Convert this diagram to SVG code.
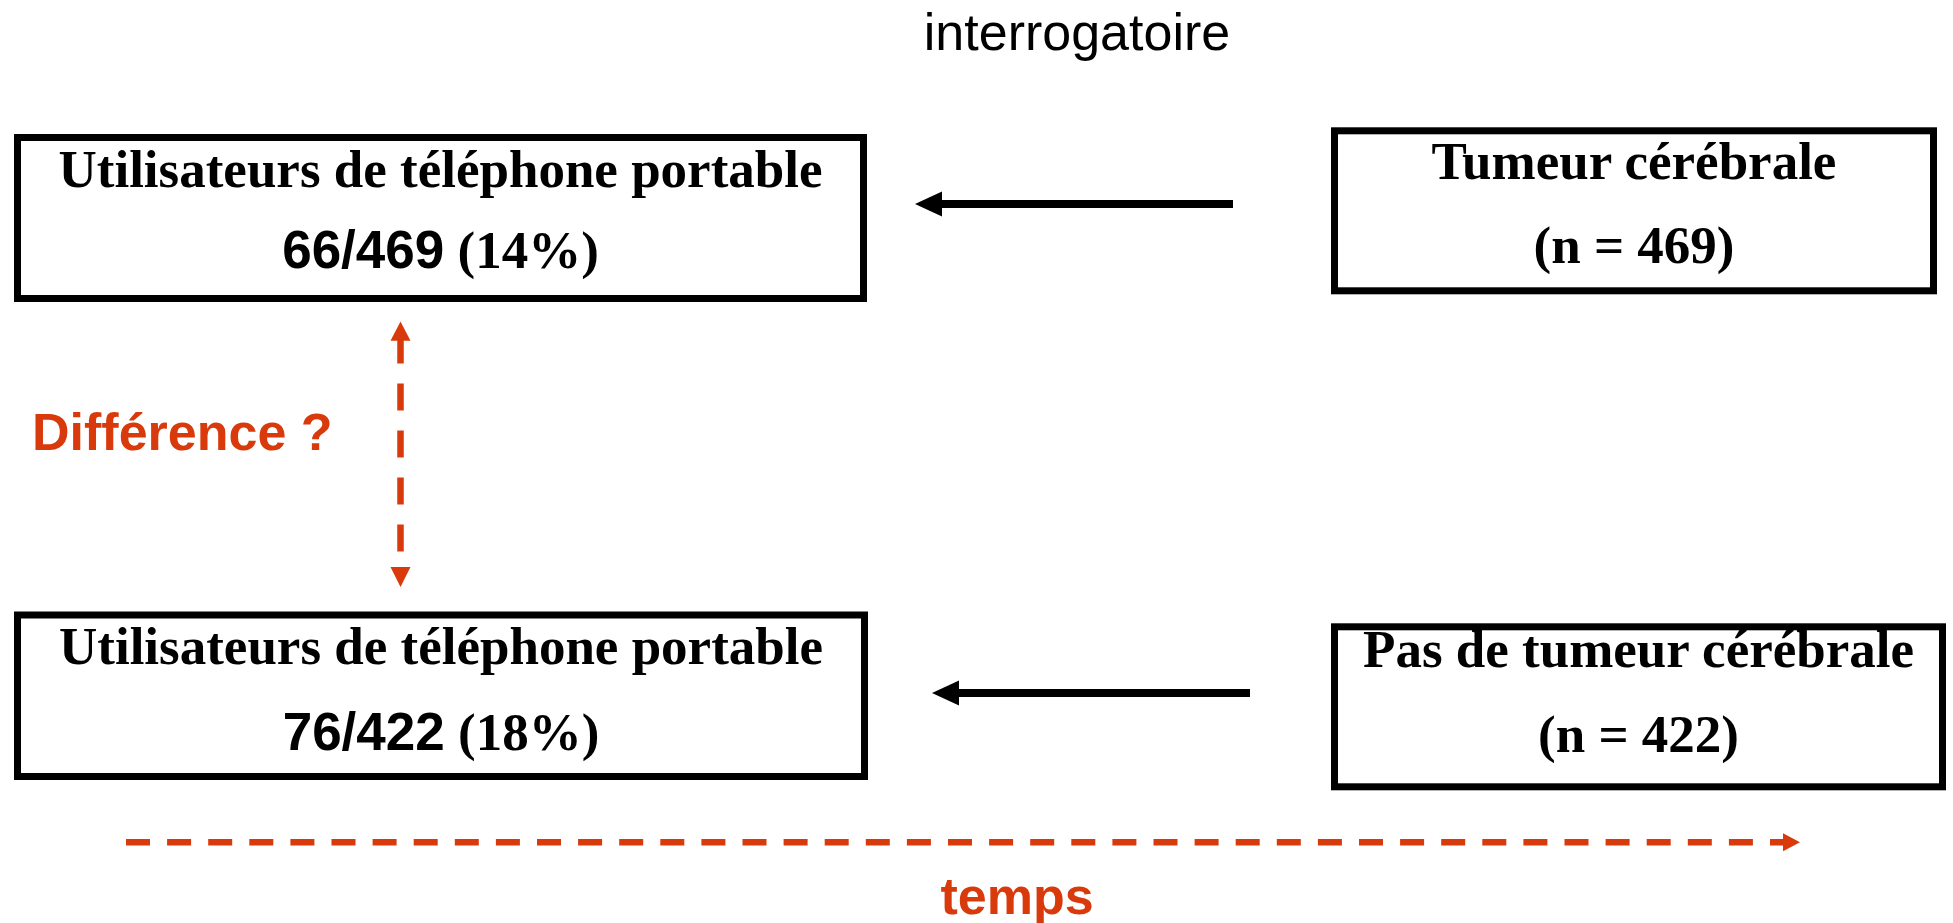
<svg xmlns="http://www.w3.org/2000/svg" width="1953" height="923" viewBox="0 0 1953 923">
<style>
.box{fill:#fff;stroke:#000;stroke-width:7}
.tb{font-family:"Liberation Serif","Times New Roman",serif;font-weight:bold;font-size:53px;fill:#000;text-anchor:middle}
.ab{font-family:"Liberation Sans",Arial,sans-serif;font-weight:bold}
.red{fill:#D93A0B}
.redtxt{font-family:"Liberation Sans",Arial,sans-serif;font-weight:bold;font-size:52px;fill:#D93A0B}
.blk{stroke:#000;stroke-width:8;fill:none}
.dash{stroke:#D93A0B;stroke-width:6.5;fill:none}
</style>
<text x="1077" y="50" font-family="'Liberation Sans',Arial,sans-serif" font-size="52" text-anchor="middle" fill="#000">interrogatoire</text>
<g id="node-users-tumor">
<rect class="box" x="17.5" y="137.5" width="846" height="161"/>
<text class="tb" x="440.5" y="187">Utilisateurs de téléphone portable</text>
<text class="tb" x="440.5" y="268"><tspan class="ab">66/469</tspan> (14%)</text>
</g>
<g id="node-tumor">
<rect class="box" x="1334.5" y="130.8" width="599" height="160"/>
<text class="tb" x="1634" y="179.3">Tumeur cérébrale</text>
<text class="tb" x="1634" y="263.3">(n = 469)</text>
</g>
<g id="node-users-control">
<rect class="box" x="17.5" y="615" width="847" height="161.5"/>
<text class="tb" x="441" y="664">Utilisateurs de téléphone portable</text>
<text class="tb" x="441" y="750"><tspan class="ab">76/422</tspan> (18%)</text>
</g>
<g id="node-control">
<rect class="box" x="1334.5" y="626.8" width="608" height="160"/>
<text class="tb" x="1638.5" y="667.3">Pas de tumeur cérébrale</text>
<text class="tb" x="1638.5" y="751.7">(n = 422)</text>
</g>
<g id="label-diff">
<text class="redtxt" x="32" y="450" font-size="52.5">Différence ?</text>
</g>
<g id="label-temps">
<text class="redtxt" x="1017" y="914" text-anchor="middle">temps</text>
</g>
<g id="connectors">
<line class="blk" x1="1233" y1="204" x2="940" y2="204"/>
<polygon points="915,204 942,191.5 942,216.5" fill="#000"/>
<line class="blk" x1="1250" y1="693" x2="957" y2="693"/>
<polygon points="932,693 959,680.5 959,705.5" fill="#000"/>
<line class="dash" x1="400.5" y1="336.5" x2="400.5" y2="567" stroke-dasharray="27 20"/>
<polygon class="red" points="400.5,321.5 410.5,340.7 390.5,340.7"/>
<polygon class="red" points="400.5,587 410.5,567 390.5,567"/>
<line class="dash" x1="126" y1="842.3" x2="1783" y2="842.3" stroke-dasharray="24 17.1"/>
<polygon class="red" points="1800,842.3 1783,833.3 1783,851.3"/>
</g>
</svg>
